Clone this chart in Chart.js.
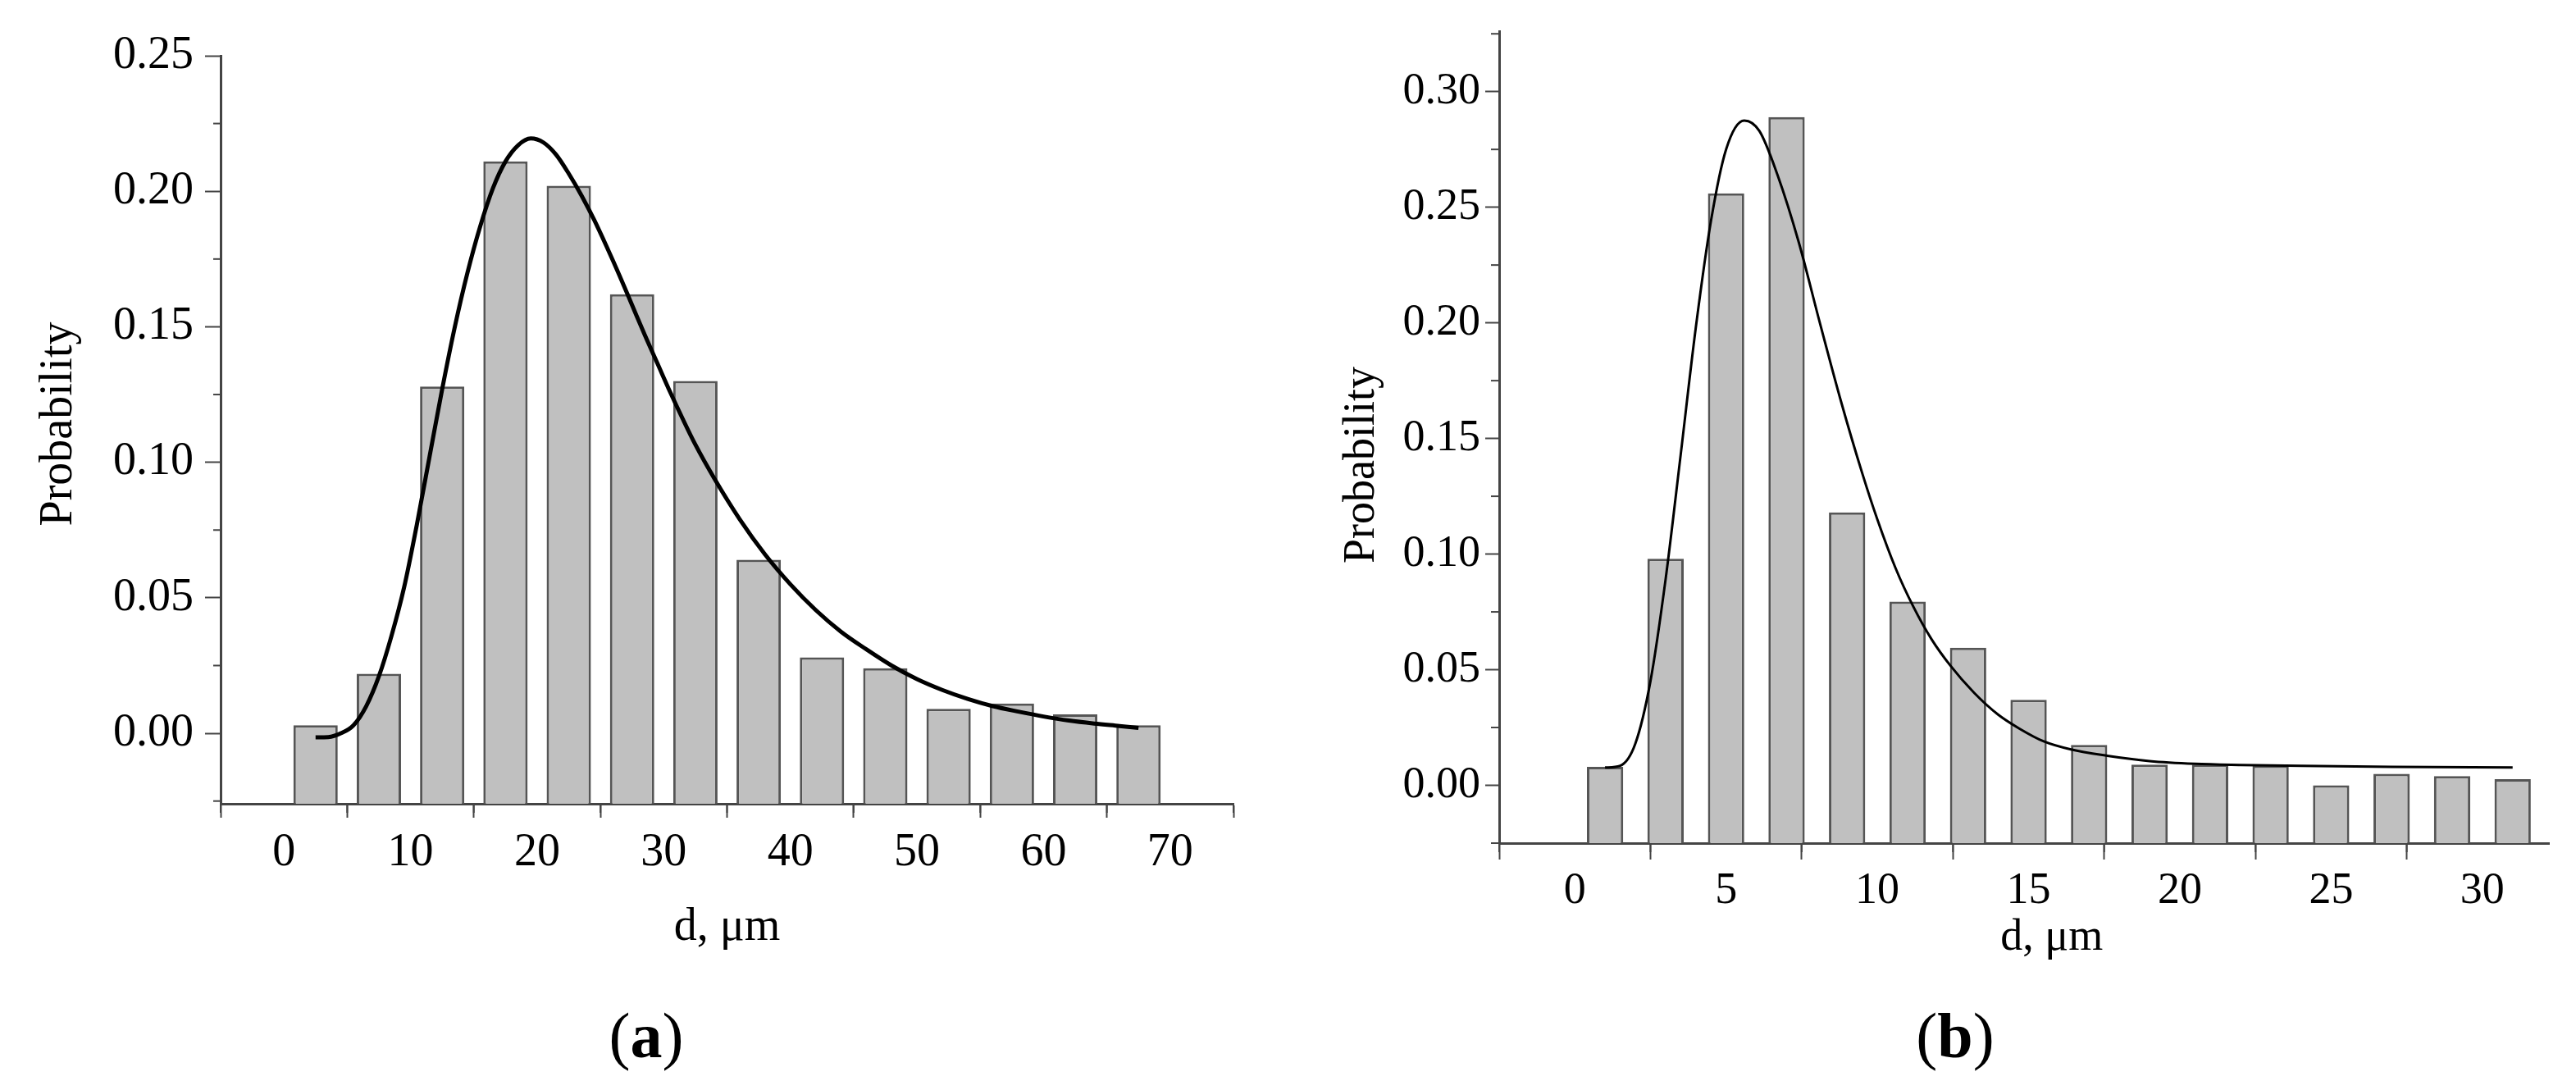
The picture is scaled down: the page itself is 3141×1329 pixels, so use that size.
<!DOCTYPE html>
<html>
<head>
  <title>Particle size distributions</title>
  <script src="https://cdn.jsdelivr.net/npm/chart.js@4.4.0/dist/chart.umd.min.js"></script>
  <style>
    body { margin: 0; background: #fff; width: 3141px; height: 1329px; position: relative; overflow: hidden; }
    canvas { position: absolute; top: 0; }
    .panel { position: absolute; font-family: 'Liberation Serif', serif; font-size: 78px; color: #000; transform: translate(-50%, -50%); }
  </style>
</head>
<body>
  <canvas id="chartA" width="1570" height="1200" style="left:0"></canvas>
  <canvas id="chartB" width="1571" height="1200" style="left:1570px"></canvas>
  <div class="panel" style="left:788px; top:1263px">(<b>a</b>)</div>
  <div class="panel" style="left:2384px; top:1263px">(<b>b</b>)</div>

  <script>
    // panel (a): histogram bins (µm) and probabilities
    const binsA = [2.5, 7.5, 12.5, 17.5, 22.5, 27.5, 32.5, 37.5, 42.5, 47.5, 52.5, 57.5, 62.5, 67.5];
    const probA = [0.003, 0.022, 0.128, 0.211, 0.202, 0.162, 0.130, 0.064, 0.028, 0.024, 0.009, 0.011, 0.007, 0.003];
    // panel (a): fitted curve
    const fitXA = [2.5, 3.5, 4.5, 5.5, 6.5, 7.5, 8.5, 9.5, 10.5, 11.5, 12.5, 13.5, 14.5, 15.5, 16.5, 17.5, 18.5, 19.5,
                   20.5, 21.5, 22.5, 23.5, 24.5, 25.5, 26.5, 27.5, 28.5, 29.5, 30.5, 31.5, 32.5, 34, 36, 38, 40,
                   42, 44, 46, 48, 50, 52, 54, 56, 58, 60, 62, 64, 66, 67.5];
    const fitYA = [-0.0015, -0.0014, 0.000, 0.003, 0.010, 0.021, 0.036, 0.054, 0.077, 0.102, 0.127, 0.150, 0.170, 0.187, 0.201, 0.211, 0.217, 0.2195,
                   0.218, 0.2135, 0.2065, 0.1985, 0.1895, 0.1795, 0.169, 0.158, 0.147, 0.1365, 0.126, 0.116, 0.1065, 0.094, 0.079, 0.066, 0.055,
                   0.0455, 0.0375, 0.031, 0.025, 0.020, 0.016, 0.0127, 0.010, 0.008, 0.0062, 0.0047, 0.0036, 0.0027, 0.002];
    const xTicksA = [0, 10, 20, 30, 40, 50, 60, 70];
    const yTicksA = [0, 0.05, 0.10, 0.15, 0.20, 0.25];

    // panel (b)
    const binsB = [1, 3, 5, 7, 9, 11, 13, 15, 17, 19, 21, 23, 25, 27, 29, 31];
    const probB = [0.008, 0.098, 0.256, 0.289, 0.118, 0.0795, 0.0595, 0.037, 0.0175, 0.009, 0.009, 0.0085, 0.000, 0.005, 0.004, 0.0027];
    const fitXB = [1.0, 1.5, 2.0, 2.5, 3.0, 3.5, 4.0, 4.5, 5.0, 5.6, 6.1, 6.7, 7.4, 8.1, 8.8, 9.5, 10.0, 10.6, 11.2, 11.8, 12.4,
                   13.2, 14.0, 14.7, 15.5, 16.4, 17.6, 19.0, 20.5, 22.0, 24.0, 27.0, 31.0];
    const fitYB = [0.0077, 0.0085, 0.018, 0.045, 0.089, 0.143, 0.198, 0.244, 0.275, 0.2875, 0.283, 0.264, 0.235, 0.200, 0.166, 0.135, 0.115, 0.094, 0.077, 0.063, 0.052,
                   0.040, 0.0305, 0.0245, 0.019, 0.0155, 0.0128, 0.0105, 0.0093, 0.0088, 0.0084, 0.0080, 0.0077];
    const xTicksB = [0, 5, 10, 15, 20, 25, 30];
    const yTicksB = [0, 0.05, 0.10, 0.15, 0.20, 0.25, 0.30];

    const serif = 'Liberation Serif';
    const axisColor = '#444';

    // short ticks half way between the labelled ones
    const minorTicks = {
      id: 'minorTicks',
      afterDraw(chart, args, opts) {
        const ctx = chart.ctx;
        ctx.save();
        ctx.strokeStyle = axisColor;
        ctx.lineWidth = 2;
        ['x', 'y'].forEach(id => {
          const s = chart.scales[id];
          const vals = s.ticks.map(t => t.value);
          const step = vals[1] - vals[0];
          for (let v = vals[0] - step / 2; v <= s.max + 1e-9; v += step) {
            if (v < s.min - 1e-9) continue;
            const p = s.getPixelForValue(v);
            ctx.beginPath();
            if (id === 'x') {
              ctx.moveTo(p, s.top);
              ctx.lineTo(p, s.top + opts.x);
            } else {
              ctx.moveTo(s.right, p);
              ctx.lineTo(s.right - opts.y, p);
            }
            ctx.stroke();
          }
        });
        ctx.restore();
      }
    };

    const makeChart = (canvasId, cfg) => {
      const ticksFrom = list => scale => { scale.ticks = list.map(v => ({ value: v })); };
      return new Chart(document.getElementById(canvasId), {
        type: 'bar',
        data: {
          datasets: [
            {
              type: 'line',
              data: cfg.fitX.map((x, i) => ({ x, y: cfg.fitY[i] })),
              borderColor: '#000',
              borderWidth: cfg.lineWidth,
              pointRadius: 0,
              cubicInterpolationMode: 'monotone',
              order: 0
            },
            {
              data: cfg.bins.map((x, i) => ({ x, y: cfg.prob[i] })),
              backgroundColor: '#c0c0c0',
              borderColor: '#555555',
              borderWidth: 3,
              base: cfg.yMin,
              barPercentage: cfg.barPct,
              categoryPercentage: 1,
              order: 1
            }
          ]
        },
        options: {
          responsive: false,
          animation: false,
          layout: { padding: cfg.padding },
          plugins: {
            legend: { display: false },
            tooltip: { enabled: false },
            minorTicks: cfg.minor
          },
          scales: {
            x: {
              type: 'linear',
              offset: false,
              min: cfg.xMin,
              max: cfg.xMax,
              z: 1,
              afterBuildTicks: ticksFrom(cfg.xTicks),
              afterFit: s => { s.height = cfg.xHeight; },
              border: { display: true, color: axisColor, width: 3 },
              grid: { drawOnChartArea: false, tickLength: cfg.xTickLen, tickColor: axisColor, tickWidth: 2 },
              ticks: {
                color: '#000', padding: cfg.xPad, maxRotation: 0,
                font: { family: serif, size: cfg.fontSize },
                callback: v => String(v)
              },
              title: {
                display: true, text: cfg.xTitle, color: '#000',
                font: { family: serif, size: cfg.fontSize },
                padding: { top: 0, bottom: cfg.xTitlePad }
              }
            },
            y: {
              min: cfg.yMin,
              max: cfg.yMax,
              z: 1,
              afterBuildTicks: ticksFrom(cfg.yTicks),
              afterFit: s => { s.width = cfg.yWidth; },
              border: { display: true, color: axisColor, width: 3 },
              grid: { drawOnChartArea: false, tickLength: cfg.yTickLen, tickColor: axisColor, tickWidth: 2 },
              ticks: {
                color: '#000', padding: cfg.yPad,
                font: { family: serif, size: cfg.fontSize },
                callback: v => v.toFixed(2)
              },
              title: {
                display: true, text: cfg.yTitle, color: '#000',
                font: { family: serif, size: cfg.fontSize },
                padding: { top: cfg.yTitlePad, bottom: 0 }
              }
            }
          }
        },
        plugins: [minorTicks]
      });
    };

    makeChart('chartA', {
      bins: binsA, prob: probA, fitX: fitXA, fitY: fitYA,
      xTicks: xTicksA, yTicks: yTicksA,
      xMin: -5, xMax: 75, yMin: -0.026, yMax: 0.25,
      barPct: 0.7, lineWidth: 5, fontSize: 56,
      xTitle: 'd, μm', yTitle: ' Probability',
      padding: { top: 68, right: 66, bottom: 0, left: 0 },
      xHeight: 220, yWidth: 269,
      xTickLen: 17, yTickLen: 19, xPad: 10, yPad: 14,
      xTitlePad: 35, yTitlePad: 39,
      minor: { x: 11, y: 9 }
    });

    // the (b) axis titles sit off-centre in the figure, padded with spaces
    makeChart('chartB', {
      bins: binsB, prob: probB, fitX: fitXB, fitY: fitYB,
      xTicks: xTicksB, yTicks: yTicksB,
      xMin: -2.5, xMax: 32.2, yMin: -0.025, yMax: 0.326,
      barPct: 0.6, lineWidth: 3, fontSize: 54,
      xTitle: '     d, μm', yTitle: 'Probability     ',
      padding: { top: 33, right: 33, bottom: 0, left: 0 },
      xHeight: 172, yWidth: 258,
      xTickLen: 20, yTickLen: 17, xPad: 6, yPad: 6,
      xTitlePad: 24, yTitlePad: 58,
      minor: { x: 11, y: 10 }
    });
  </script>
</body>
</html>
